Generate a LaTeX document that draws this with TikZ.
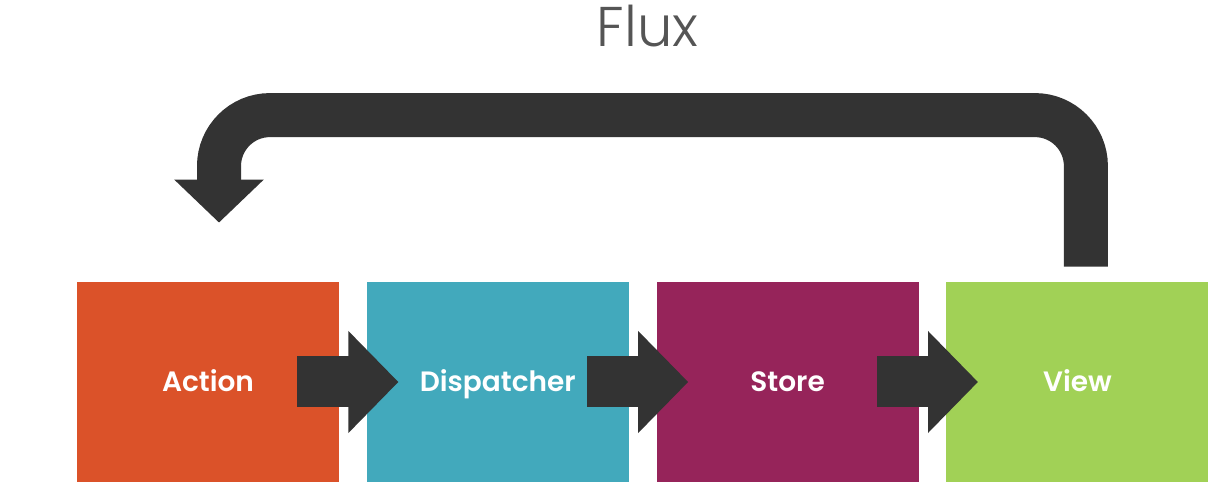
\documentclass[tikz,border=0pt]{standalone}
\usepackage{fontspec}
\setmainfont{Poppins}
\newfontfamily\titlefont{Poppins Light}
\newfontfamily\labelfont{Poppins SemiBold}
\usetikzlibrary{positioning,arrows.meta,calc}
\definecolor{actioncol}{HTML}{DB5229}
\definecolor{dispcol}{HTML}{42A9BC}
\definecolor{storecol}{HTML}{96245A}
\definecolor{viewcol}{HTML}{A1D156}
\definecolor{arrowcol}{HTML}{333333}
\definecolor{titlecol}{HTML}{555555}
\tikzset{
  box/.style={minimum width=131pt, minimum height=100pt, inner sep=0pt,
    text height=1em, text depth=0pt,
    text=white, font=\labelfont\fontsize{14}{16}\selectfont},
  flow/.style={draw=arrowcol, line width=25.5pt,
    -{Triangle[width=49.5pt,length=25pt]}},
  loopback/.style={draw=arrowcol, line width=22pt, rounded corners=25.5pt,
    -{Triangle[width=43.5pt,length=21.5pt]}}
}

\begin{document}
\begin{tikzpicture}[x=0.5pt,y=0.5pt]
   \useasboundingbox (0,0) rectangle (1221,492);
   \node[anchor=base,text=titlecol,font=\titlefont\fontsize{28}{32}\selectfont] (title) at (647.5,445) {Flux};
   % the four stages
   \node[box,fill=actioncol] (action) at (208,110) {Action};
   \node[box,fill=dispcol,right=13.5pt of action] (dispatcher) {Dispatcher};
   \node[box,fill=storecol,right=13.5pt of dispatcher] (store) {Store};
   \node[box,fill=viewcol,right=13.5pt of store] (view) {View};
   % block arrows between stages
   \draw[flow] ($(action.east)+(-42,0)$) -- ($(dispatcher.west)+(32,0)$);
   \draw[flow] ($(dispatcher.east)+(-42,0)$) -- ($(store.west)+(32,0)$);
   \draw[flow] ($(store.east)+(-42,0)$) -- ($(view.west)+(32,0)$);
   % back from the view to the action
   \draw[loopback] ($(view.north)+(8.5,15)$) |- ($(action.north)+(11,166.5)$) -- ($(action.north)+(11,59)$);
  \end{tikzpicture}
\end{document}
